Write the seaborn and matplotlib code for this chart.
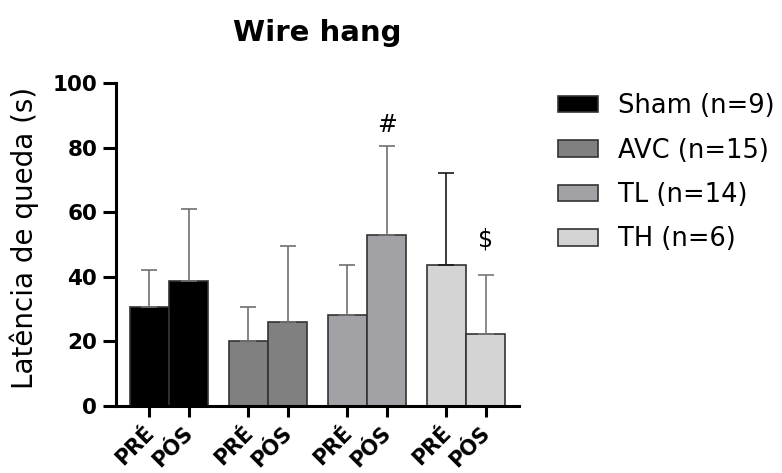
import pandas as pd
import matplotlib.pyplot as plt
import seaborn as sns
from matplotlib.patches import Patch

# Dados (média e desvio padrão, em segundos)
grupos = ["Sham", "AVC", "TL", "TH"]
n_grupo = [9, 15, 14, 6]
tempos = ["PRÉ", "PÓS"]
media_pre = [30.6, 20.1, 28.2, 43.6]
media_pos = [38.7, 26.1, 52.9, 22.3]
dp_pre = [11.5, 10.4, 15.5, 28.6]
dp_pos = [22.3, 23.4, 27.6, 18.3]

# Marcas de significância (grupo, tempo, símbolo, altura)
marcas = [("TL", "PÓS", "#", 87), ("TH", "PÓS", "$", 51.5)]

cores = ["#000000", "#808080", "#a2a1a6", "#d4d4d4"]
cor_erro = {"TH": ["#1a1a1a", "#777777"]}

df = pd.DataFrame({
    "grupo": grupos * 2,
    "tempo": [tempos[0]] * 4 + [tempos[1]] * 4,
    "valor": media_pre + media_pos,
    "dp": dp_pre + dp_pos,
})

sns.set_style("ticks")
plt.rcParams['font.family'] = ['DejaVu Sans']
plt.rcParams.update({
    "text.color": "black", "axes.labelcolor": "black",
    "xtick.color": "black", "ytick.color": "black",
    "axes.edgecolor": "black",
})

fig = plt.figure(figsize=(7.82, 4.73), dpi=100)
ax = fig.add_axes([116 / 782, 1 - 406 / 473, 403 / 782, 323 / 473])

sns.barplot(data=df, x="grupo", y="valor", hue="tempo", order=grupos,
            hue_order=tempos, width=0.79, errorbar=None, ax=ax,
            edgecolor="#333333", linewidth=1.2, legend=False)

centros = {}
for t_idx, cont in enumerate(ax.containers):
    for g_idx, barra in enumerate(cont):
        barra.set_facecolor(cores[g_idx])
        cx = barra.get_x() + barra.get_width() / 2
        centros[(grupos[g_idx], tempos[t_idx])] = cx

# Barras de erro só para cima
for t_idx, tempo in enumerate(tempos):
    sub = df[df["tempo"] == tempo]
    for _, linha in sub.iterrows():
        cx = centros[(linha["grupo"], tempo)]
        cor = cor_erro.get(linha["grupo"], ["#707070", "#707070"])[t_idx]
        ax.errorbar([cx], [linha["valor"]], yerr=[[0], [linha["dp"]]],
                    fmt="none", ecolor=cor, elinewidth=1.2, capsize=6,
                    capthick=1.2, zorder=1)

for g, t, simbolo, y in marcas:
    ax.text(centros[(g, t)], y, simbolo, ha="center", va="center",
            fontsize=17, color="black")

xt = [centros[(g, t)] for g in grupos for t in tempos]
ax.set_xticks(xt)
ax.set_xticklabels([t for g in grupos for t in tempos], rotation=45,
                   ha="right", va="center_baseline", rotation_mode="anchor",
                   fontsize=15, fontweight="bold")

ax.set_xlim(-0.535, 3.535)
ax.set_ylim(0, 100)
ax.set_yticks([0, 20, 40, 60, 80, 100])
for lbl in ax.get_yticklabels():
    lbl.set_fontweight("bold")
    lbl.set_fontsize(15.5)

ax.tick_params(axis="x", length=8, width=2.2, pad=8)
ax.tick_params(axis="y", length=9.5, width=2.2, pad=4)
sns.despine(ax=ax)
for s in ["left", "bottom"]:
    ax.spines[s].set_linewidth(2.2)

ax.set_xlabel("")
ax.set_ylabel("Latência de queda (s)", fontsize=20)
ax.yaxis.set_label_coords(-0.19, 0.52)
ax.set_title("Wire hang", fontsize=21, fontweight="bold", pad=30)

handles = [Patch(facecolor=c, edgecolor="#333333", linewidth=1.2) for c in cores]
rotulos = [f"{g} (n={n})" for g, n in zip(grupos, n_grupo)]
fig.legend(handles, rotulos, loc="upper left",
           bbox_to_anchor=(558 / 782, 1 - 93 / 473), frameon=False,
           fontsize=18.5, handlelength=1.55, handleheight=0.6,
           handletextpad=0.8, labelspacing=0.72, borderpad=0,
           borderaxespad=0)

fig.savefig("out.png", dpi=100)
